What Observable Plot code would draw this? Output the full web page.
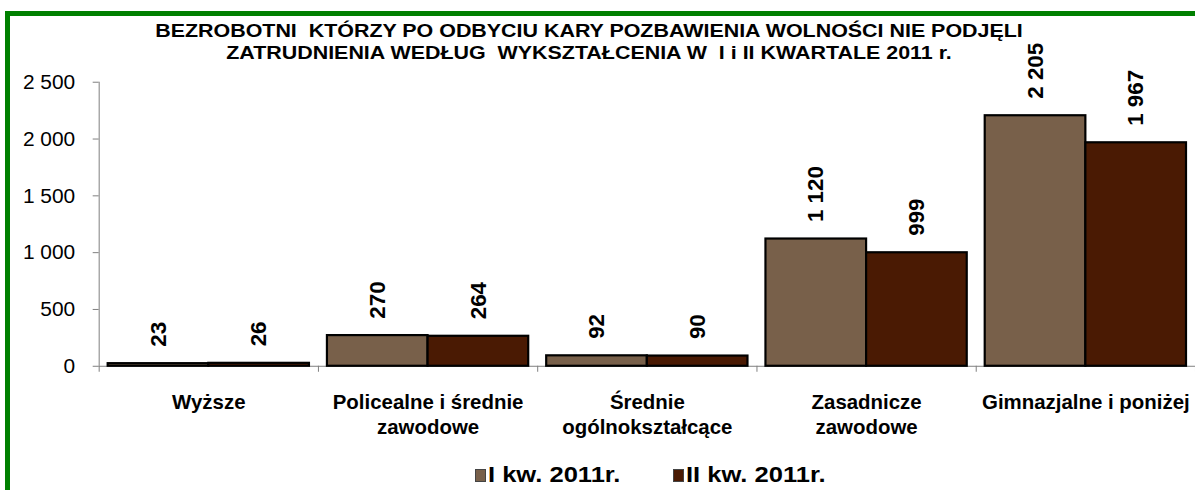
<!DOCTYPE html>
<html>
<head>
<meta charset="utf-8">
<script src="https://cdn.jsdelivr.net/npm/d3@7"></script>
<script src="https://cdn.jsdelivr.net/npm/@observablehq/plot@0.6"></script>
<style>
  html, body { margin: 0; padding: 0; background: #fff; overflow: hidden; width: 1195px; height: 490px; }
  body { position: relative; font-family: "Liberation Sans", Arial, sans-serif; }
  #frame { position: absolute; left: 5px; top: 11px; width: 1400px; height: 700px; border: 5px solid #008000; box-sizing: border-box; }
  #title { position: absolute; left: 0; top: 20px; width: 1178px; text-align: center; font-weight: bold; font-size: 18px; line-height: 22px; color: #000; white-space: pre; transform: scaleX(1.19); transform-origin: 589px 0; }
  #chart { position: absolute; left: 0; top: 0; }
  #chart svg { overflow: visible; }
  .leg { position: absolute; top: 463px; font-weight: bold; font-size: 22px; line-height: 24px; color: #000; display: flex; align-items: center; }
  .leg .t { display: inline-block; transform: scaleX(1.16); transform-origin: 0 50%; white-space: pre; }
  .sw { width: 9px; height: 11px; border: 1.5px solid #444; margin-right: 2px; }
</style>
</head>
<body>
<div id="frame"></div>
<div id="chart"></div>
<div id="title"></div>
<div id="legend"></div>
<script>
const titleLines = [
  "BEZROBOTNI  KTÓRZY PO ODBYCIU KARY POZBAWIENIA WOLNOŚCI NIE PODJĘLI",
  "ZATRUDNIENIA WEDŁUG  WYKSZTAŁCENIA W  I i II KWARTALE 2011 r."
];
const categories = ["Wyższe", "Policealne i średnie\nzawodowe", "Średnie\nogólnokształcące", "Zasadnicze\nzawodowe", "Gimnazjalne i poniżej"];
const seriesNames = ["I kw. 2011r.", "II kw. 2011r."];
const q1Values = [23, 270, 92, 1120, 2205];
const q2Values = [26, 264, 90, 999, 1967];
const seriesColors = ["#78604A", "#4A1A03"];
const yTicks = [0, 500, 1000, 1500, 2000, 2500];

document.getElementById("title").textContent = titleLines.join("\n");

const fmt = d => d3.format(",")(d).replace(/,/g, " ");
const pad = 0.041;
const bw = (1 - 2 * pad) / 2;
const rows = [];
categories.forEach((c, i) => {
  [q1Values, q2Values].forEach((vals, j) => {
    rows.push({cat: c, series: seriesNames[j], value: vals[i], x1: i + pad + j * bw, x2: i + pad + (j + 1) * bw});
  });
});

const chart = Plot.plot({
  width: 1199,
  height: 490,
  marginLeft: 99,
  marginRight: 0,
  marginTop: 82,
  marginBottom: 123,
  style: {fontFamily: "Liberation Sans, Arial, sans-serif", fontSize: "20px", color: "#000", background: "transparent"},
  x: {type: "linear", domain: [0, categories.length], axis: null},
  y: {domain: [0, 2500], axis: null},
  color: {domain: seriesNames, range: seriesColors},
  marks: [
    Plot.ruleX([0], {y1: 0, y2: 2500, stroke: "#808080", strokeWidth: 1}),
    Plot.ruleY([0], {x1: 0, x2: categories.length, stroke: "#808080", strokeWidth: 1}),
    Plot.axisY(yTicks, {anchor: "left", label: null, tickSize: 6, tickPadding: 18, tickFormat: fmt, stroke: "#808080", fill: "#000", fontSize: 21}),
    Plot.axisX(d3.range(categories.length + 1), {anchor: "bottom", label: null, tickSize: 6, tickFormat: () => "", stroke: "#808080"}),
    Plot.axisX(categories.map((_, i) => i + 0.5), {anchor: "bottom", label: null, tickSize: 0, tickPadding: 25, tickFormat: d => categories[Math.floor(d)], fontSize: 20.5, fontWeight: "bold", fill: "#000", lineHeight: 1.22}),
    Plot.rectY(rows, {x1: "x1", x2: "x2", y1: 0, y2: "value", fill: "series", stroke: "#000", strokeWidth: 2.2}),
    Plot.text(rows, {x: d => (d.x1 + d.x2) / 2, y: "value", text: d => fmt(d.value), rotate: -90, textAnchor: "start", dy: -17, fontSize: 22.5, fontWeight: "bold", fill: "#000"})
  ]
});
document.getElementById("chart").appendChild(chart);

const legend = document.getElementById("legend");
const legX = [475, 673];
seriesNames.forEach((s, i) => {
  const item = document.createElement("div");
  item.className = "leg";
  item.style.left = legX[i] + "px";
  const sw = document.createElement("span");
  sw.className = "sw";
  sw.style.background = seriesColors[i];
  const t = document.createElement("span");
  t.className = "t";
  t.textContent = s;
  item.appendChild(sw);
  item.appendChild(t);
  legend.appendChild(item);
});
</script>
</body>
</html>
